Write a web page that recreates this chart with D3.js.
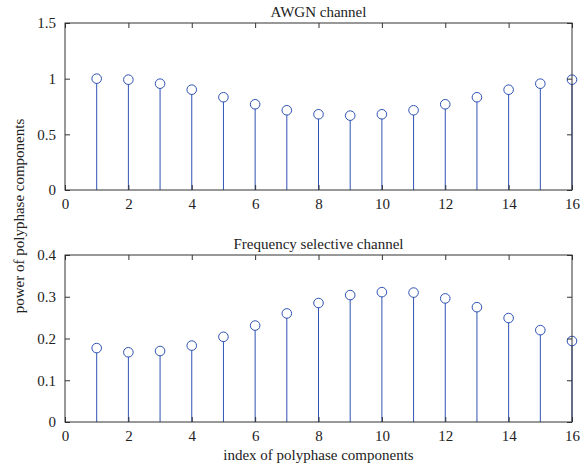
<!DOCTYPE html>
<html><head><meta charset="utf-8">
<script src="https://cdn.jsdelivr.net/npm/d3@7"></script>
<style>body{margin:0;background:#fff}svg{display:block}text{font-family:"Liberation Serif","Times New Roman",serif;fill:#222}</style>
</head><body>
<script>
const indices = [1,2,3,4,5,6,7,8,9,10,11,12,13,14,15,16];
const awgnPower = [1.0,0.991,0.955,0.901,0.833,0.770,0.716,0.680,0.668,0.680,0.716,0.770,0.833,0.901,0.955,0.991];
const fsPower = [0.177,0.167,0.170,0.183,0.204,0.231,0.260,0.285,0.304,0.311,0.310,0.296,0.275,0.249,0.220,0.194];
const xTicks = [0,2,4,6,8,10,12,14,16];
const awgnYTicks = [0,0.5,1,1.5];
const fsYTicks = [0,0.1,0.2,0.3,0.4];
const titles = ["AWGN channel","Frequency selective channel"];

const W=585,H=464;
const svg=d3.select("body").append("svg").attr("width",W).attr("height",H);
const color="#2f52b4";
const x=d3.scaleLinear().domain([0,16]).range([65,572]);

function panel(top,bottom,ymax,yTicks,vals,title){
  const y=d3.scaleLinear().domain([0,ymax]).range([bottom,top]);
  const g=svg.append("g");
  const tl=5;
  g.selectAll("line.stem").data(indices).join("line")
    .attr("x1",d=>x(d)).attr("x2",d=>x(d))
    .attr("y1",y(0)).attr("y2",(d,i)=>y(vals[i])+4.5)
    .attr("stroke",color).attr("stroke-width",1);
  g.selectAll("circle").data(indices).join("circle")
    .attr("cx",d=>x(d)).attr("cy",(d,i)=>y(vals[i])).attr("r",4.8)
    .attr("fill","none").attr("stroke",color).attr("stroke-width",1);
  const ax=g.append("g").attr("transform",`translate(0,${bottom})`)
    .call(d3.axisBottom(x).tickValues(xTicks).tickSizeInner(-tl).tickSizeOuter(0).tickPadding(8).tickFormat(d3.format("d")));
  const axT=g.append("g").attr("transform",`translate(0,${top})`)
    .call(d3.axisTop(x).tickValues(xTicks).tickSizeInner(-tl).tickSizeOuter(0).tickFormat(""));
  const ay=g.append("g").attr("transform",`translate(${x(0)},0)`)
    .call(d3.axisLeft(y).tickValues(yTicks).tickSizeInner(-tl).tickSizeOuter(0).tickPadding(9).tickFormat(d=>d3.format("")(d)));
  const ayR=g.append("g").attr("transform",`translate(${x(16)},0)`)
    .call(d3.axisRight(y).tickValues(yTicks).tickSizeInner(-tl).tickSizeOuter(0).tickFormat(""));
  [ax,axT,ay,ayR].forEach(a=>{
    a.select(".domain").remove();
    a.selectAll("line").attr("stroke","#333");
    a.selectAll("text").attr("font-size",15).attr("font-family","Liberation Serif, serif").attr("fill","#222");
  });
  g.append("rect").attr("x",x(0)).attr("y",top).attr("width",x(16)-x(0)).attr("height",bottom-top)
    .attr("fill","none").attr("stroke","#333").attr("stroke-width",1);
  g.append("text").attr("x",(x(0)+x(16))/2).attr("y",top-6).attr("text-anchor","middle")
    .attr("font-size",15).text(title);
}
panel(23,190,1.5,awgnYTicks,awgnPower,titles[0]);
panel(255,422,0.4,fsYTicks,fsPower,titles[1]);

svg.append("text").attr("transform","translate(24,216) rotate(-90)").attr("text-anchor","middle")
  .attr("font-size",15).text("power of polyphase components");
svg.append("text").attr("x",(x(0)+x(16))/2).attr("y",460).attr("text-anchor","middle")
  .attr("font-size",15).text("index of polyphase components");
</script>
</body></html>
